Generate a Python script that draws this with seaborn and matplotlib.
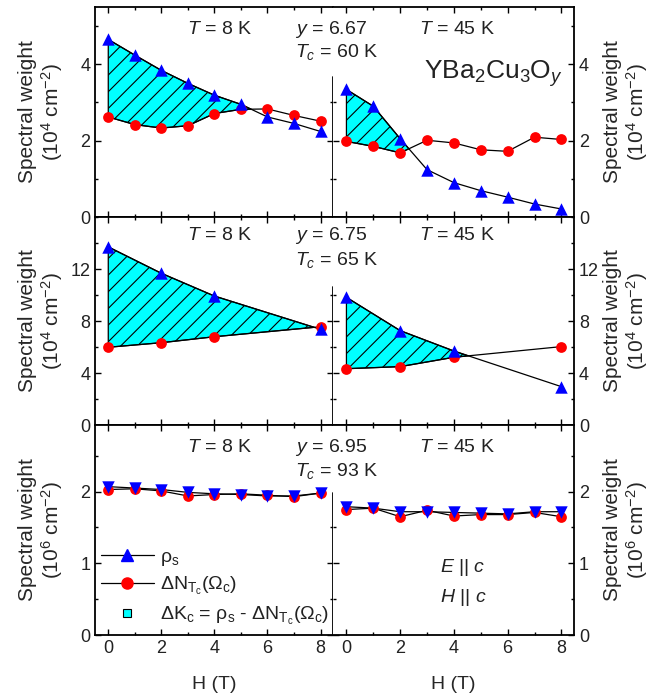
import matplotlib
matplotlib.use('Agg')
import matplotlib.pyplot as plt
import seaborn as sns
import numpy as np
import pandas as pd
from matplotlib.lines import Line2D
from matplotlib.ticker import MultipleLocator

# ---------------- data ----------------
H_full = [0, 1, 2, 3, 4, 5, 6, 7, 8]
H_mid = [0, 2, 4, 8]

rho_667_8K = [4.65, 4.24, 3.84, 3.50, 3.19, 2.95, 2.62, 2.45, 2.24]
dn_667_8K = [2.62, 2.42, 2.33, 2.39, 2.71, 2.82, 2.83, 2.66, 2.51]
rho_667_45K = [3.34, 2.90, 2.05, 1.24, 0.90, 0.69, 0.52, 0.34, 0.21]
dn_667_45K = [1.98, 1.85, 1.68, 2.01, 1.94, 1.76, 1.72, 2.09, 2.03]

rho_675_8K = [13.7, 11.67, 9.92, 7.36]
dn_675_8K = [5.98, 6.33, 6.79, 7.56]
rho_675_45K = [9.82, 7.26, 5.69, 2.95]
dn_675_45K = [4.33, 4.49, 5.21, 6.03]

rho_695_8K = [2.07, 2.05, 2.03, 1.99, 1.97, 1.96, 1.94, 1.94, 1.98]
dn_695_8K = [2.03, 2.04, 2.01, 1.94, 1.96, 1.97, 1.95, 1.93, 1.98]
rho_695_45K = [1.79, 1.77, 1.72, 1.72, 1.71, 1.70, 1.69, 1.72, 1.72]
dn_695_45K = [1.75, 1.77, 1.65, 1.74, 1.66, 1.68, 1.68, 1.71, 1.65]

doping_labels = ['6.67', '6.75', '6.95']
tc_labels = ['60', '65', '93']
temp_labels = ['8', '45']
y_units = [r'(10$^4$ cm$^{-2}$)', r'(10$^4$ cm$^{-2}$)', r'(10$^6$ cm$^{-2}$)']
y_limits = [5.5, 16.0, 2.93]
y_major = [2, 4, 1]
y_minor = [1, 2, 0.5]
y_tick_max = [4, 12, 2]

rows = [
    (H_full, rho_667_8K, dn_667_8K, rho_667_45K, dn_667_45K, True),
    (H_mid, rho_675_8K, dn_675_8K, rho_675_45K, dn_675_45K, True),
    (H_full, rho_695_8K, dn_695_8K, rho_695_45K, dn_695_45K, False),
]

# ---------------- style ----------------
sns.set_theme(style='ticks')
plt.rcParams['font.family'] = ['Liberation Sans', 'DejaVu Sans']
plt.rcParams['mathtext.fontset'] = 'custom'
plt.rcParams['mathtext.rm'] = 'Liberation Sans'
plt.rcParams['mathtext.it'] = 'Liberation Sans:italic'
plt.rcParams['mathtext.sf'] = 'Liberation Sans'
plt.rcParams['hatch.color'] = 'black'
plt.rcParams['hatch.linewidth'] = 0.8
plt.rcParams['axes.linewidth'] = 1.3
plt.rcParams['text.color'] = '#222222'

W, Hh = 668, 696
fig = plt.figure(figsize=(W / 100, Hh / 100), dpi=100)

def fx(px):
    return px / W

def fy(py):
    return 1 - py / Hh

col_x = [95, 333, 574]
row_y = [7, 217, 425, 635]
divider_frac = [0.667, 0.663, 0.676]

BLUE = '#0000FF'
RED = '#FF0000'
CYAN = '#00FFFF'

axes = []
for r in range(3):
    Hv, r8, d8, r45, d45, do_fill = rows[r]
    for c in range(2):
        x0, x1 = col_x[c], col_x[c + 1]
        y0, y1 = row_y[r], row_y[r + 1]
        ax = fig.add_axes([fx(x0), fy(y1), fx(x1) - fx(x0), fy(y0) - fy(y1)])
        axes.append(ax)
        rho = np.array(r8 if c == 0 else r45)
        dn = np.array(d8 if c == 0 else d45)
        Harr = np.array(Hv)
        df = pd.DataFrame({'H': Harr, 'rho': rho, 'dn': dn})
        if do_fill:
            ax.fill_between(Harr, rho, dn, where=rho >= dn, interpolate=True,
                            facecolor=CYAN, edgecolor='black', hatch='//',
                            linewidth=0.9, zorder=1)
        sns.lineplot(data=df, x='H', y='dn', color='black', lw=0.9, ax=ax, zorder=2)
        sns.lineplot(data=df, x='H', y='rho', color='black', lw=0.9, ax=ax, zorder=2)
        sns.scatterplot(data=df, x='H', y='dn', color=RED, marker='o', s=60,
                        linewidth=0, ax=ax, zorder=3)
        mk = '^' if r < 2 else 'v'
        sns.scatterplot(data=df, x='H', y='rho', color=BLUE, marker=mk, s=80,
                        linewidth=0, ax=ax, zorder=4)

        ax.set_xlim(-0.5, 8.47)
        ax.set_ylim(0, y_limits[r])
        ax.xaxis.set_major_locator(MultipleLocator(2))
        ax.xaxis.set_minor_locator(MultipleLocator(1))
        ax.yaxis.set_major_locator(MultipleLocator(y_major[r]))
        ax.yaxis.set_minor_locator(MultipleLocator(y_minor[r]))
        ax.set_yticks(np.arange(0, y_tick_max[r] + 0.01, y_major[r]))
        ax.tick_params(axis='both', which='both', direction='in', top=True,
                       bottom=True, left=True, right=True, labelsize=13,
                       width=1.0, colors='black', labelcolor='#222222')
        ax.tick_params(which='major', length=4)
        ax.tick_params(which='minor', length=2.5)
        ax.set_xlabel('')
        ax.set_ylabel('')
        for sp in ax.spines.values():
            sp.set_visible(True)
            sp.set_linewidth(1.3)
            sp.set_color('black')
        if c == 0:
            ax.spines['right'].set_visible(False)
            ax.plot([1, 1], [0, divider_frac[r]], transform=ax.transAxes,
                    color='black', lw=1.3, clip_on=False, zorder=5)
            ax.tick_params(axis='y', labelleft=True, labelright=False)
        else:
            ax.spines['left'].set_visible(False)
            ax.tick_params(axis='y', labelleft=False, labelright=True)
        if r < 2:
            ax.tick_params(axis='x', labelbottom=False)
        else:
            ax.set_xticks([0, 2, 4, 6, 8])
            ax.set_xlabel('H (T)', fontsize=14, labelpad=14)

        # y label
        lab = 'Spectral weight\n' + y_units[r]
        ax.set_ylabel(lab, fontsize=15, linespacing=1.1)
        if c == 0:
            ax.yaxis.set_label_position('left')
            ax.yaxis.set_label_coords(-0.128, 0.5)
        else:
            ax.yaxis.set_label_position('right')
            ax.yaxis.set_label_coords(1.122, 0.5)
            ax.yaxis.label.set_rotation(90)

# hide divider ticks above the partial divider line
fig.canvas.draw()
for r in range(3):
    top_val = divider_frac[r] * y_limits[r]
    axl, axr = axes[2 * r], axes[2 * r + 1]
    for tk in axl.yaxis.get_major_ticks() + axl.yaxis.get_minor_ticks():
        if tk.get_loc() > top_val:
            tk.tick2line.set_visible(False)
    for tk in axr.yaxis.get_major_ticks() + axr.yaxis.get_minor_ticks():
        if tk.get_loc() > top_val:
            tk.tick1line.set_visible(False)

# ---------------- annotations ----------------
TS = 14
row_text_y = [29, 236, 448]
row_tc_y = [52, 260, 471]
for r in range(3):
    fig.text(fx(220), fy(row_text_y[r]), r'$T$ = ' + temp_labels[0] + ' K',
             ha='center', va='center', fontsize=TS)
    fig.text(fx(457), fy(row_text_y[r]), r'$T$ = ' + temp_labels[1] + ' K',
             ha='center', va='center', fontsize=TS)
    fig.text(fx(331), fy(row_text_y[r]), r'$y$ = ' + doping_labels[r],
             ha='center', va='center', fontsize=TS)
    fig.text(fx(337), fy(row_tc_y[r]), r'$T_c$ = ' + tc_labels[r] + ' K',
             ha='center', va='center', fontsize=TS)

fig.text(fx(563), fy(74), r'YBa$_2$Cu$_3$O$_y$', ha='right', va='center', fontsize=19)
fig.text(fx(463), fy(568), r'$E$ || $c$', ha='center', va='center', fontsize=TS)
fig.text(fx(463), fy(597), r'$H$ || $c$', ha='center', va='center', fontsize=TS)

# legend
handles = [
    Line2D([], [], color='black', lw=0.9, marker='^', markersize=9,
           markerfacecolor=BLUE, markeredgecolor=BLUE),
    Line2D([], [], color='black', lw=0.9, marker='o', markersize=8,
           markerfacecolor=RED, markeredgecolor=RED),
    Line2D([], [], color='none', marker='s', markersize=6,
           markerfacecolor=CYAN, markeredgecolor='black', markeredgewidth=0.8),
]
labels = [r'$\mathrm{\rho_s}$',
          r'$\mathrm{\Delta N_{T_c}(\Omega_c)}$',
          r'$\mathrm{\Delta K_c}$ = $\mathrm{\rho_s}$ - $\mathrm{\Delta N_{T_c}(\Omega_c)}$']
fig.legend(handles, labels, loc='upper left', bbox_to_anchor=(fx(101), fy(548)),
           frameon=False, fontsize=TS, handlelength=2.7, handletextpad=0.35,
           labelspacing=0.38, borderpad=0, borderaxespad=0)

fig.savefig('out.png', dpi=100)
